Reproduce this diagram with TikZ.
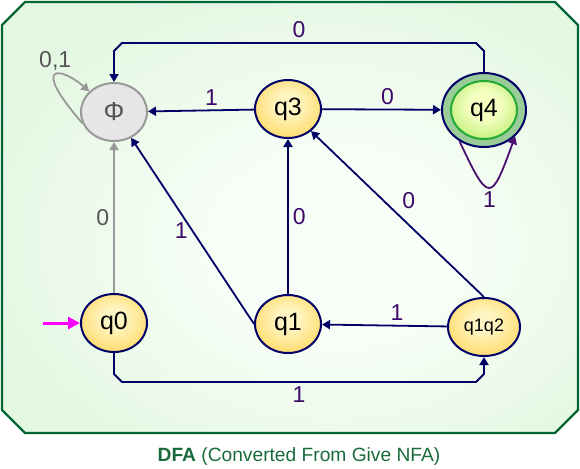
\documentclass[tikz,border=0pt]{standalone}
\usepackage{fontspec}
\setmainfont{Liberation Sans}
\usetikzlibrary{positioning, arrows.meta, shapes}
\definecolor{navy}{HTML}{000066}
\definecolor{lblpurple}{HTML}{3D0A6B}
\definecolor{loopPurple}{HTML}{4A1070}
\definecolor{frameGreen}{HTML}{006633}
\definecolor{bgGreen}{HTML}{E3F7E1}
\definecolor{bgGlow}{HTML}{F8FEF7}
\definecolor{stateIn}{HTML}{FFF6C4}
\definecolor{stateOut}{HTML}{FFC21A}
\definecolor{ringGreen}{HTML}{99CC99}
\definecolor{acceptIn}{HTML}{F4FFC0}
\definecolor{acceptOut}{HTML}{88DD30}
\definecolor{acceptLine}{HTML}{22AA33}
\definecolor{deadFill}{HTML}{E6E6E6}
\definecolor{deadLine}{HTML}{999999}
\definecolor{deadText}{HTML}{555555}
\definecolor{captionGreen}{HTML}{1A6B3C}
\definecolor{startPink}{HTML}{FF00FF}
\pgfdeclareradialshading{stateshade}{\pgfpoint{0bp}{5bp}}{color(0bp)=(stateIn); color(8bp)=(stateIn); color(48bp)=(stateOut); color(70bp)=(stateOut)}
\pgfdeclareradialshading{acceptshade}{\pgfpoint{0bp}{5bp}}{color(0bp)=(acceptIn); color(12bp)=(acceptIn); color(50bp)=(acceptOut); color(70bp)=(acceptOut)}
\pgfdeclareradialshading{bgshade}{\pgfpoint{5bp}{-4bp}}{color(0bp)=(bgGlow); color(10bp)=(bgGlow); color(32bp)=(bgGreen); color(70bp)=(bgGreen)}

\begin{document}
\begin{tikzpicture}[x=0.5pt, y=0.5pt, >={Triangle[length=4pt, width=4.5pt]},
	dfastate/.style={draw=navy, line width=1pt, ellipse, shade, shading=stateshade, minimum width=33pt, minimum height=29pt, inner sep=0pt, font=\fontsize{12.5}{14}\selectfont},
	deadstate/.style={draw=deadLine, line width=1pt, ellipse, fill=deadFill, text=deadText, minimum width=33pt, minimum height=29pt, inner sep=0pt, font=\fontsize{13}{15}\selectfont},
	acceptring/.style={draw=navy, line width=1pt, ellipse, fill=ringGreen, minimum width=42pt, minimum height=37pt, inner sep=0pt},
	acceptcore/.style={draw=acceptLine, line width=1pt, ellipse, shade, shading=acceptshade, minimum width=33pt, minimum height=29pt, inner sep=0pt, font=\fontsize{12.5}{14}\selectfont},
	trans/.style={->, draw=navy, line width=0.9pt},
	deadtrans/.style={->, draw=deadLine, line width=0.9pt},
	lbl/.style={text=lblpurple, inner sep=2pt, font=\fontsize{11.5}{13}\selectfont},
	deadlbl/.style={text=deadText, inner sep=2pt, font=\fontsize{11.5}{13}\selectfont},
	frame/.style={draw=frameGreen, line width=1.2pt, shade, shading=bgshade},
	caption/.style={text=captionGreen, font=\fontsize{9.6}{12}\selectfont}
]
	\useasboundingbox (0,0) rectangle (580,-468);
	\path[frame] (2,-25) -- (25,-2) -- (555,-2) -- (578,-25) -- (578,-410) -- (555,-433) -- (25,-433) -- (2,-410) -- cycle;

	\node[deadstate] (phi) at (114,-112) {Φ};
	\node[dfastate] (q3) at (288,-109) {q3};
	\node[acceptring] (q4) at (484,-110) {};
	\node[acceptcore] (q4core) at (q4) {q4};
	\node[dfastate] (q0) at (114,-323) {q0};
	\node[dfastate] (q1) at (288,-324) {q1};
	\node[dfastate, minimum width=36pt, minimum height=29pt, font=\fontsize{9}{11}\selectfont] (q1q2) at (484,-327) {q1q2};
	\node[caption] (title) at (299,-457) {\textbf{DFA} (Converted From Give NFA)};

	\coordinate (start) at (43,-323);
	\draw[->, draw=startPink, line width=1.5pt, >={Triangle[length=6pt, width=6pt]}] (start) -- (q0);
	\draw[deadtrans] (q0) -- node[left, deadlbl] {0} (phi);
	\draw[deadtrans] (phi.200) .. controls +(-53,61) and +(-29,25) .. node[pos=0.5, above, deadlbl] {0,1} (phi.140);
	\draw[trans] (q3) -- node[pos=0.4, above, lbl] {1} (phi);
	\draw[trans] (q3) -- node[pos=0.55, above, lbl] {0} (q4);
	\draw[trans] (q4.north) -- ++(0,21) -- ++(-8,8) -- node[above, lbl] {0} ++(-354,0) -- ++(-8,-8) -- (phi);
	\draw[->, draw=loopPurple, line width=0.9pt, out=-65, in=-110, looseness=3.2] (q4.232) to node[below, lbl] {1} (q4.-40);
	\draw[trans] (q1.west) -- node[left, lbl] {1} (phi);
	\draw[trans] (q1) -- node[right, lbl] {0} (q3);
	\draw[trans] (q1q2.north) -- node[above right, lbl] {0} (q3);
	\draw[trans] (q1q2) -- node[pos=0.4, above, lbl] {1} (q1);
	\draw[trans] (q0.south) -- ++(0,-21) -- ++(8,-8) -- node[below, lbl] {1} ++(354,0) -- ++(8,8) -- (q1q2);
\end{tikzpicture}
\end{document}
